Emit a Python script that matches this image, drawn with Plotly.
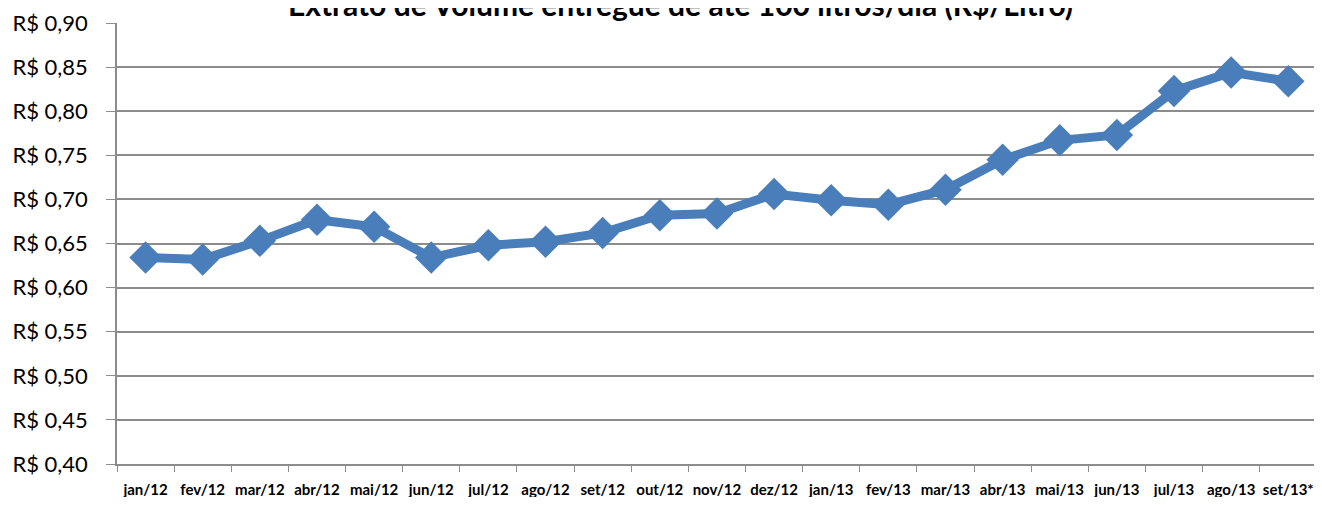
import plotly.graph_objects as go

meses = [
    "jan/12", "fev/12", "mar/12", "abr/12", "mai/12", "jun/12", "jul/12",
    "ago/12", "set/12", "out/12", "nov/12", "dez/12", "jan/13", "fev/13",
    "mar/13", "abr/13", "mai/13", "jun/13", "jul/13", "ago/13", "set/13*",
]
preco = [
    0.634, 0.632, 0.653, 0.677, 0.669, 0.634, 0.648,
    0.652, 0.662, 0.682, 0.684, 0.706, 0.699, 0.694,
    0.711, 0.745, 0.767, 0.773, 0.823, 0.844, 0.834,
]
y_ticks = [0.40, 0.45, 0.50, 0.55, 0.60, 0.65, 0.70, 0.75, 0.80, 0.85, 0.90]
y_labels = ["R$ " + f"{v:.2f}".replace(".", ",") for v in y_ticks]

titulo = "Extrato de Volume entregue de até 100 litros/dia (R$/Litro)"

fig = go.Figure()
fig.add_trace(
    go.Scatter(
        x=meses,
        y=preco,
        mode="lines+markers",
        line=dict(color="#4A7EBB", width=9),
        marker=dict(symbol="diamond", size=25, color="#4A7EBB"),
        showlegend=False,
        hovertemplate="%{x}<br>R$ %{y:.3f}<extra></extra>",
    )
)

# title sits partly above the top edge, as in the source image
fig.add_annotation(
    text="<b>" + titulo + "</b>",
    xref="paper",
    yref="paper",
    x=0.471,
    y=1.043,
    xanchor="center",
    yanchor="middle",
    showarrow=False,
    font=dict(family="Lato", size=30, color="#000000"),
)

fig.update_xaxes(
    type="category",
    range=[-0.5, len(meses) - 0.55],
    showgrid=False,
    showline=True,
    linecolor="#8C8C8C",
    linewidth=1.5,
    ticks="outside",
    tickson="boundaries",
    ticklen=6,
    tickcolor="#8C8C8C",
    tickangle=0,
    automargin=False,
    tickfont=dict(family="Lato", size=15, color="#000000", weight="bold"),
    ticklabelstandoff=11,
)
fig.update_yaxes(
    range=[0.40, 0.90],
    tickvals=y_ticks,
    ticktext=y_labels,
    showgrid=True,
    gridcolor="#8C8C8C",
    gridwidth=1.5,
    showline=True,
    linecolor="#8C8C8C",
    linewidth=1.5,
    ticks="outside",
    ticklen=9,
    tickcolor="#8C8C8C",
    automargin=False,
    tickfont=dict(family="Lato", size=22, color="#000000"),
    ticklabelstandoff=14,
    zeroline=False,
)
# page body adds 8px around the figure; keep it inside the window
fig.update_layout(
    width=1306,
    height=489,
    margin=dict(l=109, r=0, t=15, b=33),
    plot_bgcolor="white",
    paper_bgcolor="white",
)
fig.write_html("out.html")
